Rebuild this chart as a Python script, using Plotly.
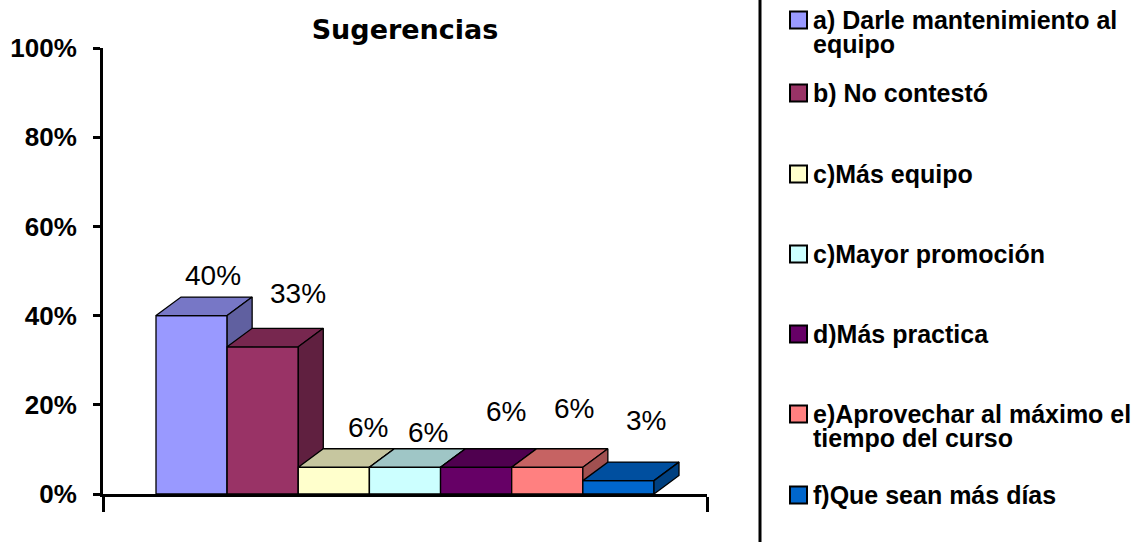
import plotly.graph_objects as go

# ---- data ----
categories = [
    "a) Darle mantenimiento al\nequipo",
    "b) No contestó",
    "c)Más equipo",
    "c)Mayor promoción",
    "d)Más practica",
    "e)Aprovechar al máximo el\ntiempo del curso",
    "f)Que sean más días",
]
values = [40, 33, 6, 6, 6, 6, 3]
front_colors = ["#9999FF", "#993366", "#FFFFCC", "#CCFFFF", "#660066", "#FF8080", "#0066CC"]
y_tick_vals = [0, 20, 40, 60, 80, 100]
y_tick_text = ["0%", "20%", "40%", "60%", "80%", "100%"]

# ---- page geometry (pixels) ----
W, H = 1133, 542
PLOT_L, PLOT_R, PLOT_T, PLOT_B = 103, 707, 48, 494
SIDE_GAP = 0.745            # empty space at each end, in bar widths
DEPTH_PX = (25, 18.5)       # 3D depth offset of the bar tops (right, up)
# label offsets from the top-centre of each bar front, in pixels (right, up)
label_shift_px = [(21, 40), (35, 53), (34, 40), (23, 35), (30, 56), (27, 59), (28, 60)]
# vertical centre of the first text line of each legend row
legend_row_px = [20, 93, 174, 254, 334, 414, 495]
LEGEND_LINE_PX = 24
SANS = "Arial, Liberation Sans, sans-serif"

x_range = [-0.5 - SIDE_GAP, len(values) - 0.5 + SIDE_GAP]
px_per_x = (PLOT_R - PLOT_L) / (x_range[1] - x_range[0])
px_per_y = (PLOT_B - PLOT_T) / 100.0
dx = DEPTH_PX[0] / px_per_x
dy = DEPTH_PX[1] / px_per_y


def paper_x(px):
    return (px - PLOT_L) / (PLOT_R - PLOT_L)


def paper_y(py):
    return (PLOT_B - py) / (PLOT_B - PLOT_T)


def shade(hex_color, f):
    h = hex_color.lstrip("#")
    r, g, b = (int(h[k:k + 2], 16) for k in (0, 2, 4))
    return "#{:02X}{:02X}{:02X}".format(int(r * f), int(g * f), int(b * f))


fig = go.Figure()

edge = dict(color="black", width=1.3)
# bars are drawn left to right so each one hides the side of its neighbour
for i, (v, col) in enumerate(zip(values, front_colors)):
    x0, x1 = i - 0.5, i + 0.5
    faces = [
        ([x0, x1, x1, x0, x0], [0, 0, v, v, 0], col),
        ([x0, x1, x1 + dx, x0 + dx, x0], [v, v, v + dy, v + dy, v], shade(col, 0.78)),
        ([x1, x1 + dx, x1 + dx, x1, x1], [0, dy, v + dy, v, 0], shade(col, 0.63)),
    ]
    for fx, fy, fc in faces:
        fig.add_trace(go.Scatter(
            x=fx, y=fy, mode="lines", fill="toself", fillcolor=fc,
            line=edge, hoverinfo="skip", showlegend=False,
        ))

annotations = []
# value labels
for i, v in enumerate(values):
    sx, sy = label_shift_px[i]
    annotations.append(dict(
        x=i, y=v, xref="x", yref="y", text=f"{v}%", showarrow=False,
        xshift=sx, yshift=sy, xanchor="center", yanchor="middle",
        font=dict(family=SANS, size=28, color="black"),
    ))

# legend: colour swatch + label lines
shapes = []
SW_X0, SW_X1, TXT_X = 790, 807, 811
for i, (name, col) in enumerate(zip(categories, front_colors)):
    cy = legend_row_px[i]
    shapes.append(dict(
        type="rect", xref="paper", yref="paper",
        x0=paper_x(SW_X0), x1=paper_x(SW_X1),
        y0=paper_y(cy - 8.5), y1=paper_y(cy + 8.5),
        fillcolor=col, line=dict(color="black", width=2),
    ))
    for k, line in enumerate(name.split("\n")):
        annotations.append(dict(
            x=paper_x(TXT_X), y=paper_y(cy + k * LEGEND_LINE_PX),
            xref="paper", yref="paper", text=line, showarrow=False,
            xanchor="left", yanchor="middle",
            font=dict(family=SANS, size=25, color="black", weight="bold"),
        ))

# legend frame edge
shapes.append(dict(
    type="line", xref="paper", yref="paper",
    x0=paper_x(760), x1=paper_x(760), y0=paper_y(H), y1=paper_y(0),
    line=dict(color="black", width=3),
))

fig.update_layout(
    width=W, height=H,
    margin=dict(l=PLOT_L, r=W - PLOT_R, t=PLOT_T, b=H - PLOT_B, pad=0, autoexpand=False),
    paper_bgcolor="white", plot_bgcolor="white",
    showlegend=False,
    title=dict(
        text="Sugerencias", x=405 / W, xanchor="center", y=1 - 30 / H, yanchor="middle",
        xref="container", yref="container",
        font=dict(family="DejaVu Sans", size=27, color="black", weight="bold"),
    ),
    xaxis=dict(
        range=x_range, showgrid=False, zeroline=False, automargin=False,
        showline=True, linecolor="black", linewidth=3,
        tickmode="array", tickvals=x_range, ticks="outside", ticklen=15,
        tickwidth=3, tickcolor="black", showticklabels=False, fixedrange=True,
    ),
    yaxis=dict(
        range=[0, 100], showgrid=False, zeroline=False, automargin=False,
        showline=True, linecolor="black", linewidth=3,
        tickmode="array", tickvals=y_tick_vals, ticktext=y_tick_text,
        ticks="outside", ticklen=7, tickwidth=3, tickcolor="black",
        ticklabelstandoff=11,
        tickfont=dict(family=SANS, size=26, color="black", weight="bold"),
        fixedrange=True,
    ),
    annotations=annotations,
    shapes=shapes,
)

fig.write_html("out.html")
